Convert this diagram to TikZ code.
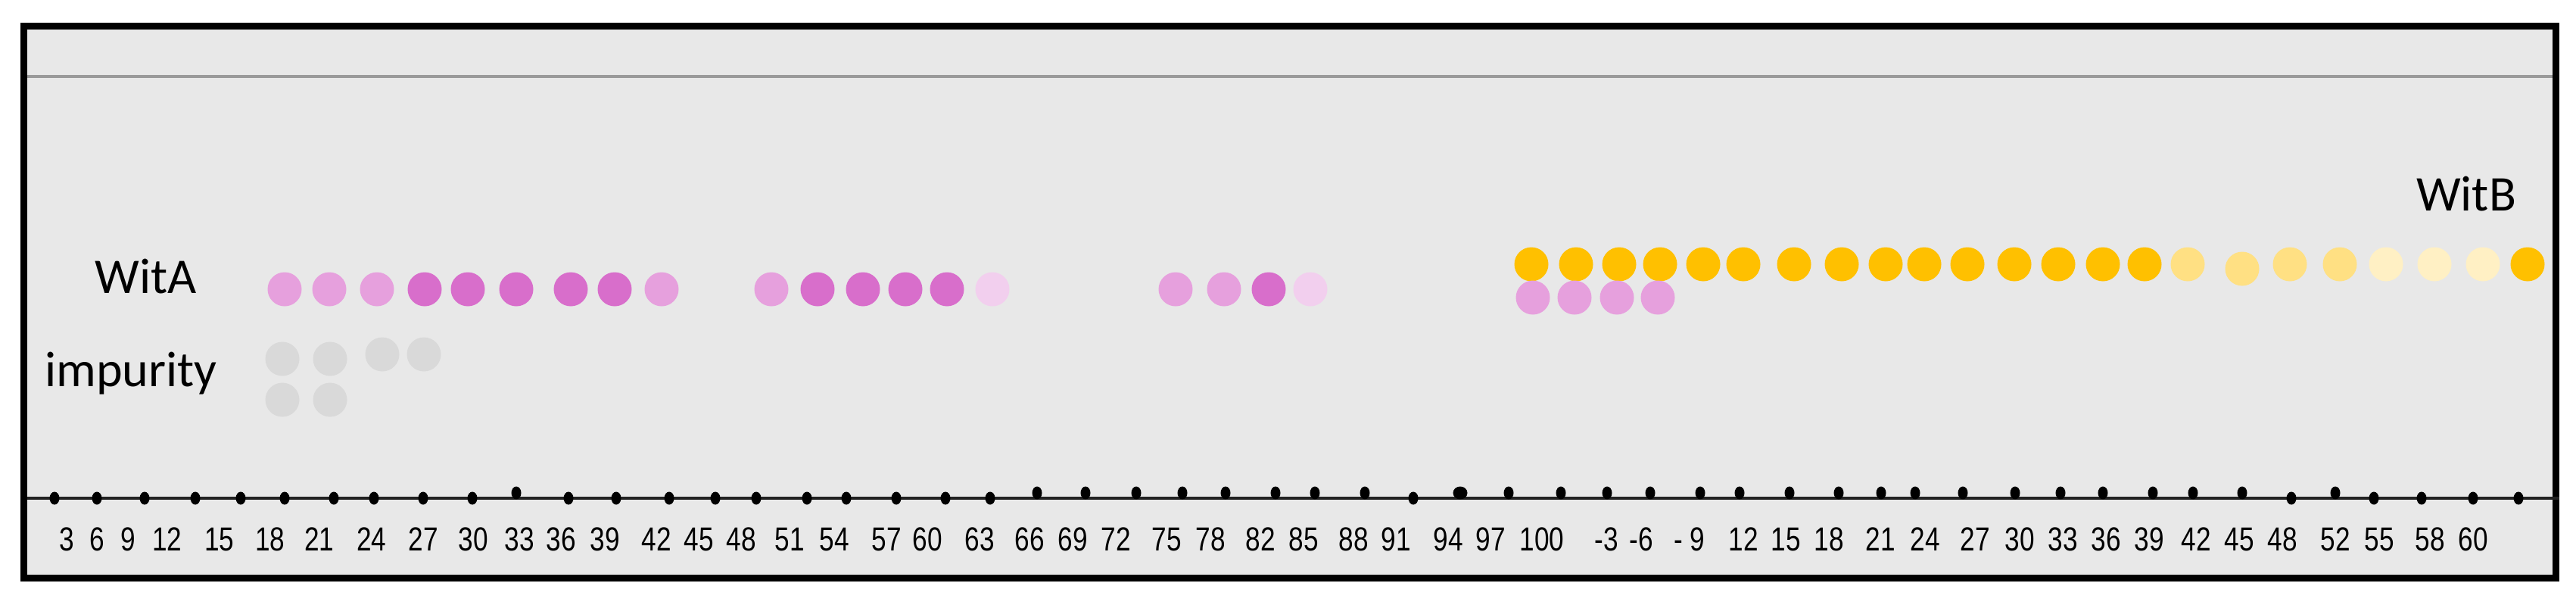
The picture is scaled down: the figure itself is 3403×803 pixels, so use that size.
\documentclass[tikz,border=0pt]{standalone}
\usepackage{fontspec}
\setmainfont{Carlito}
\newfontfamily\numfont{Liberation Sans}[FakeStretch=0.8]
\usetikzlibrary{shapes.geometric}
\definecolor{bg}{HTML}{E8E8E8}
\definecolor{pinkL}{HTML}{E6A0DD}
\definecolor{pinkD}{HTML}{D86ECB}
\definecolor{pinkVL}{HTML}{F2CFEE}
\definecolor{yelF}{HTML}{FFC000}
\definecolor{yelL}{HTML}{FFE083}
\definecolor{yelVL}{HTML}{FFF0C4}
\definecolor{impG}{HTML}{D9D9D9}
\definecolor{sepG}{HTML}{9A9A9A}
\definecolor{axisK}{HTML}{222222}
\begin{document}
\begin{tikzpicture}[x=1pt,y=-1pt,
  lbl/.style={font=\fontsize{66}{66}\selectfont, inner sep=0pt, anchor=base},
  numlbl/.style={font=\numfont\fontsize{44}{44}\selectfont, inner sep=0pt, anchor=base},
  blob/.style={circle, inner sep=0pt, minimum size=45pt, draw=none},
  tickdot/.style={ellipse, inner sep=0pt, minimum width=13pt, minimum height=17pt, fill=black, draw=none}]
\useasboundingbox (0,0) rectangle (3403,803);
\fill[white] (0,0) rectangle (3403,803);
% frame
\draw[line width=9pt, fill=bg] (31,34) rectangle (3376,763);
\draw[line width=4pt, sepG] (35.5,101) -- (3371.5,101);
% axis
\draw[line width=3.5pt, axisK] (36,658) -- (3381,658);
\foreach \x [count=\i] in {72,128,191,258,318,376,441,494,559,624,751,814,884,945,999,1066,1118,1184,1249,1308,1867,3027,3136,3199,3267,3327}
  \node[tickdot] (tc\i) at (\x,658) {};
\foreach \x [count=\i] in {682,1370,1434,1501,1562,1619,1685,1737,1803,1993,2062,2123,2180,2246,2298,2364,2429,2485,2530,2593,2662,2722,2778,2844,2897,2962,3085}
  \node[tickdot] (tr\i) at (\x,651) {};
\node[tickdot, minimum width=19pt] (tbig) at (1929,651) {};
% axis labels
\foreach \x/\t [count=\i] in {88/3,128/6,169/9,221/12,290/15,357/18,422/21,491/24,559/27,625/30,686/33,741/36,799/39,867/42,923/45,979/48,1043/51,1102/54,1171/57,1225/60,1294/63,1360/66,1417/69,1474/72,1541/75,1599/78,1665/82,1722/85,1788/88,1844/91,1913/94,1969/97,2037/100}
  \node[numlbl] (na\i) at (\x,727) {\t};
\foreach \x/\t [count=\i] in {2122/-3,2168/-6,2232/- 9,2303/12,2359/15,2416/18,2484/21,2543/24,2609/27,2668/30,2725/33,2782/36,2839/39,2901/42,2958/45,3015/48,3085/52,3143/55,3210/58,3267/60}
  \node[numlbl] (nb\i) at (\x,727) {\t};
% texts
\node[lbl] (witA) at (193,387) {WitA};
\node[lbl] (imp) at (173,510) {impurity};
\node[lbl] (witB) at (3258,278) {WitB};
% impurity dots
\foreach \x/\y [count=\i] in {373/474,436/474,505/468,560/468,373/528,436/528}
  \node[blob, fill=impG] (g\i) at (\x,\y) {};
% WitA dots
\foreach \x/\c [count=\i] in {376/pinkL,435/pinkL,498/pinkL,561/pinkD,618/pinkD,682/pinkD,754/pinkD,812/pinkD,874/pinkL,1019/pinkL,1080/pinkD,1140/pinkD,1196/pinkD,1251/pinkD,1311/pinkVL,1553/pinkL,1617/pinkL,1676/pinkD,1731/pinkVL}
  \node[blob, fill=\c] (a\i) at (\x,382) {};
% WitB dots
\foreach \x/\y/\c [count=\i] in {2023/349/yelF,2082/349/yelF,2139/349/yelF,2193/349/yelF,2250/349/yelF,2303/349/yelF,2370/349/yelF,2433/349/yelF,2491/349/yelF,2542/349/yelF,2599/349/yelF,2661/349/yelF,2719/349/yelF,2778/349/yelF,2833/349/yelF,2890/349/yelL,2962/355/yelL,3025/349/yelL,3091/349/yelL,3152/349/yelVL,3216/349/yelVL,3280/349/yelVL,3339/349/yelF}
  \node[blob, fill=\c] (b\i) at (\x,\y) {};
\foreach \x [count=\i] in {2025,2080,2136,2190}
  \node[blob, fill=pinkL] (p\i) at (\x,393) {};
\end{tikzpicture}
\end{document}
